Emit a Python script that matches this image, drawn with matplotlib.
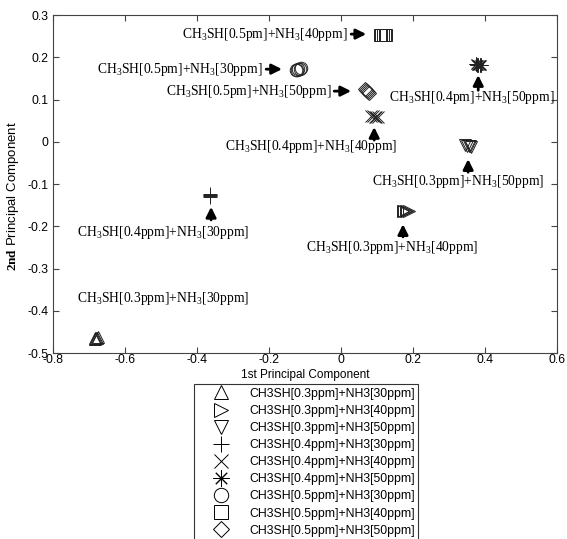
import matplotlib.pyplot as plt

plt.rcParams['mathtext.fontset'] = 'custom'
plt.rcParams['mathtext.rm'] = 'Liberation Serif'
plt.rcParams['mathtext.it'] = 'Liberation Serif:italic'
plt.rcParams['mathtext.bf'] = 'Liberation Serif:bold'

# Legend entries and marker for each gas mixture
groups = ['CH3SH[0.3ppm]+NH3[30ppm]', 'CH3SH[0.3ppm]+NH3[40ppm]', 'CH3SH[0.3ppm]+NH3[50ppm]',
          'CH3SH[0.4ppm]+NH3[30ppm]', 'CH3SH[0.4ppm]+NH3[40ppm]', 'CH3SH[0.4ppm]+NH3[50ppm]',
          'CH3SH[0.5ppm]+NH3[30ppm]', 'CH3SH[0.5ppm]+NH3[40ppm]', 'CH3SH[0.5ppm]+NH3[50ppm]']
markers = ['^', '>', 'v', '+', 'x', (8, 2, 0), 'o', 's', 'D']
msizes = [9, 9, 9, 10, 8.5, 10, 9, 9, 7.5]

pc1 = [[-0.684, -0.682, -0.680, -0.678, -0.676],
       [0.172, 0.176, 0.180, 0.184, 0.188],
       [0.344, 0.349, 0.354, 0.358, 0.362],
       [-0.365, -0.364, -0.364, -0.363, -0.363],
       [0.084, 0.089, 0.093, 0.098, 0.102],
       [0.374, 0.378, 0.381, 0.385, 0.388],
       [-0.126, -0.122, -0.119, -0.115, -0.111],
       [0.107, 0.112, 0.117, 0.121, 0.126],
       [0.067, 0.070, 0.072, 0.075, 0.077]]
pc2 = [[-0.466, -0.465, -0.465, -0.464, -0.463],
       [-0.163, -0.163, -0.164, -0.164, -0.164],
       [-0.008, -0.009, -0.010, -0.011, -0.012],
       [-0.124, -0.126, -0.127, -0.129, -0.130],
       [0.060, 0.060, 0.059, 0.059, 0.059],
       [0.184, 0.183, 0.183, 0.182, 0.182],
       [0.170, 0.171, 0.172, 0.173, 0.174],
       [0.254, 0.254, 0.254, 0.254, 0.254],
       [0.124, 0.122, 0.120, 0.118, 0.116]]

# Annotation labels: text, text position, alignment, arrow tail and tip
notes = ['CH$_\\mathrm{3}$SH[0.3ppm]+NH$_\\mathrm{3}$[30ppm]',
         'CH$_\\mathrm{3}$SH[0.3ppm]+NH$_\\mathrm{3}$[40ppm]',
         'CH$_\\mathrm{3}$SH[0.3ppm]+NH$_\\mathrm{3}$[50ppm]',
         'CH$_\\mathrm{3}$SH[0.4ppm]+NH$_\\mathrm{3}$[30ppm]',
         'CH$_\\mathrm{3}$SH[0.4ppm]+NH$_\\mathrm{3}$[40ppm]',
         'CH$_\\mathrm{3}$SH[0.4pm]+NH$_\\mathrm{3}$[50ppm]',
         'CH$_\\mathrm{3}$SH[0.5pm]+NH$_\\mathrm{3}$[30ppm]',
         'CH$_\\mathrm{3}$SH[0.5pm]+NH$_\\mathrm{3}$[40ppm]',
         'CH$_\\mathrm{3}$SH[0.5pm]+NH$_\\mathrm{3}$[50ppm]']
note_xy = [(-0.494, -0.370), (0.143, -0.249), (0.326, -0.095),
           (-0.494, -0.214), (-0.082, -0.012), (0.363, 0.106),
           (-0.217, 0.172), (0.019, 0.255), (-0.025, 0.120)]
note_ha = ['center', 'center', 'center', 'center', 'center', 'center', 'right', 'right', 'right']
arrow_from = [None, (0.172, -0.225), (0.353, -0.072), (-0.361, -0.185), (0.092, 0.004),
              (0.381, 0.122), (-0.208, 0.172), (0.028, 0.255), (-0.019, 0.120)]
arrow_to = [None, (0.172, -0.195), (0.353, -0.041), (-0.361, -0.154), (0.092, 0.035),
            (0.381, 0.158), (-0.164, 0.172), (0.070, 0.255), (0.028, 0.120)]

xticks = [-0.8, -0.6, -0.4, -0.2, 0, 0.2, 0.4, 0.6]
xticklabels = ['-0.8', '-0.6', '-0.4', '-0.2', '0', '0.2', '0.4', '0.6']
yticks = [-0.5, -0.4, -0.3, -0.2, -0.1, 0, 0.1, 0.2, 0.3]
yticklabels = ['-0.5', '-0.4', '-0.3', '-0.2', '-0.1', '0', '0.1', '0.2', '0.3']

fig = plt.figure(figsize=(5.67, 5.39), dpi=100)
ax = fig.add_axes([0.0935, 0.345, 0.889, 0.627])

for i in range(len(groups)):
    ax.plot(pc1[i], pc2[i], linestyle='none', marker=markers[i], markersize=msizes[i],
            markerfacecolor='none', markeredgecolor='#222222', markeredgewidth=0.7,
            label=groups[i])

for i in range(len(notes)):
    ax.text(note_xy[i][0], note_xy[i][1], notes[i], ha=note_ha[i], va='center',
            fontsize=9.8, family='Liberation Serif')
    if arrow_from[i] is not None:
        ax.annotate('', xy=arrow_to[i], xytext=arrow_from[i],
                    arrowprops=dict(arrowstyle='-|>,head_length=0.5,head_width=0.25',
                                    color='k', lw=2, mutation_scale=12,
                                    shrinkA=0, shrinkB=0))

ax.set_xlim(-0.8, 0.6)
ax.set_ylim(-0.5, 0.3)
ax.set_xticks(xticks)
ax.set_xticklabels(xticklabels, family='Liberation Sans', fontsize=8.8)
ax.set_yticks(yticks)
ax.set_yticklabels(yticklabels, family='Liberation Sans', fontsize=8.8)
ax.tick_params(direction='in', top=True, right=True, length=4, width=0.8, color='#444444')
ax.tick_params(axis='x', pad=1)
ax.tick_params(axis='y', pad=3)
for s in ax.spines.values():
    s.set_color('#444444')
    s.set_linewidth(0.8)

ax.set_xlabel('1st Principal Component', family='Liberation Sans', fontsize=8.5, labelpad=2)
ax.set_ylabel('$\\mathbf{2nd}$ Principal Component', family='Liberation Sans', fontsize=9.5)
ax.yaxis.set_label_coords(-0.064, 0.465)

leg = fig.legend(loc='upper left', bbox_to_anchor=(0.342, 0.2876), borderaxespad=0,
                 frameon=True, fancybox=False, edgecolor='k',
                 prop={'family': 'Liberation Sans', 'size': 8.8},
                 markerscale=1.15, handletextpad=0.4, labelspacing=0.42,
                 borderpad=0.3, handlelength=3.8)
leg.get_frame().set_linewidth(0.8)
for h in leg.legend_handles:
    h.set_markeredgecolor('k')

fig.savefig('out.png', dpi=100)
